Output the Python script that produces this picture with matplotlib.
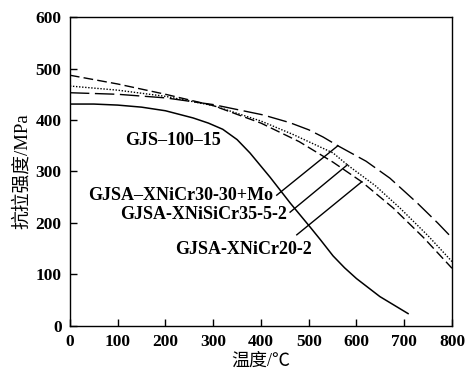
import matplotlib
matplotlib.use('Agg')
import matplotlib.pyplot as plt

plt.rcParams['font.family'] = ['Liberation Serif', 'Noto Sans CJK SC', 'DejaVu Sans']
plt.rcParams['lines.scale_dashes'] = False

# GJS-100-15 (实线)
t_solid = [0, 50, 100, 150, 200, 258, 290, 320, 350, 377, 419, 461, 503, 524, 551, 575, 600, 649, 708]
s_solid = [431, 431, 429, 425, 418, 404, 394, 382, 362, 336, 289, 239, 192, 168, 136, 113, 92, 57, 24]

# GJSA-XNiCr30-30+Mo (长虚线)
t_mo = [0, 100, 200, 300, 404, 460, 500, 530, 561, 620, 670, 727, 770, 800]
s_mo = [453, 450, 443, 430, 410, 395, 381, 367, 350, 320, 287, 239, 200, 171]

# GJSA-XNiSiCr35-5-2 (点线)
t_si = [0, 100, 200, 300, 400, 467, 551, 582, 640, 691, 750, 800]
s_si = [466, 458, 446, 428, 398, 372, 336, 312, 272, 229, 175, 125]

# GJSA-XNiCr20-2 (短虚线)
t_cr = [0, 100, 200, 300, 400, 480, 551, 611, 677, 740, 800]
s_cr = [487, 470, 450, 428, 394, 358, 318, 280, 229, 172, 112]

labels = ['GJS\u2013100\u201315', 'GJSA\u2013XNiCr30-30+Mo', 'GJSA-XNiSiCr35-5-2', 'GJSA-XNiCr20-2']
label_xy = [(115, 361), (425, 254), (454, 216), (507, 148)]
label_ha = ['left', 'right', 'right', 'right']

# 引线 (起点, 终点)
leaders = [((433, 254), (561, 350)), ((461, 221), (581, 313)), ((475, 177), (611, 280))]

fig = plt.figure(figsize=(4.66, 3.79), dpi=100)
ax = fig.add_axes([0.150, 0.140, 0.820, 0.815])

ax.plot(t_solid, s_solid, color='black', lw=1.1)
ax.plot(t_mo, s_mo, color='black', lw=1.0, linestyle=(0, (14, 4)))
ax.plot(t_si, s_si, color='black', lw=1.0, linestyle=(0, (1, 1.2)))
ax.plot(t_cr, s_cr, color='black', lw=1.0, linestyle=(0, (7, 3)))

for (p0, p1) in leaders:
    ax.plot([p0[0], p1[0]], [p0[1], p1[1]], color='black', lw=1.0)

for txt, (x, y), ha in zip(labels, label_xy, label_ha):
    ax.text(x, y, txt, ha=ha, va='center', fontsize=13, fontweight='bold')

ax.set_xlim(0, 800)
ax.set_ylim(0, 600)
ax.set_xticks(range(0, 801, 100))
ax.set_yticks(range(0, 601, 100))
ax.tick_params(direction='in', length=5, width=1, labelsize=12.5, pad=6)
for lab in ax.get_xticklabels() + ax.get_yticklabels():
    lab.set_fontweight('bold')
for sp in ax.spines.values():
    sp.set_linewidth(1.0)

ax.set_xlabel('温度/℃', fontsize=13, labelpad=2)
ax.set_ylabel('抗拉强度/MPa', fontsize=13.5, labelpad=3)

fig.savefig('out.png', dpi=100)
